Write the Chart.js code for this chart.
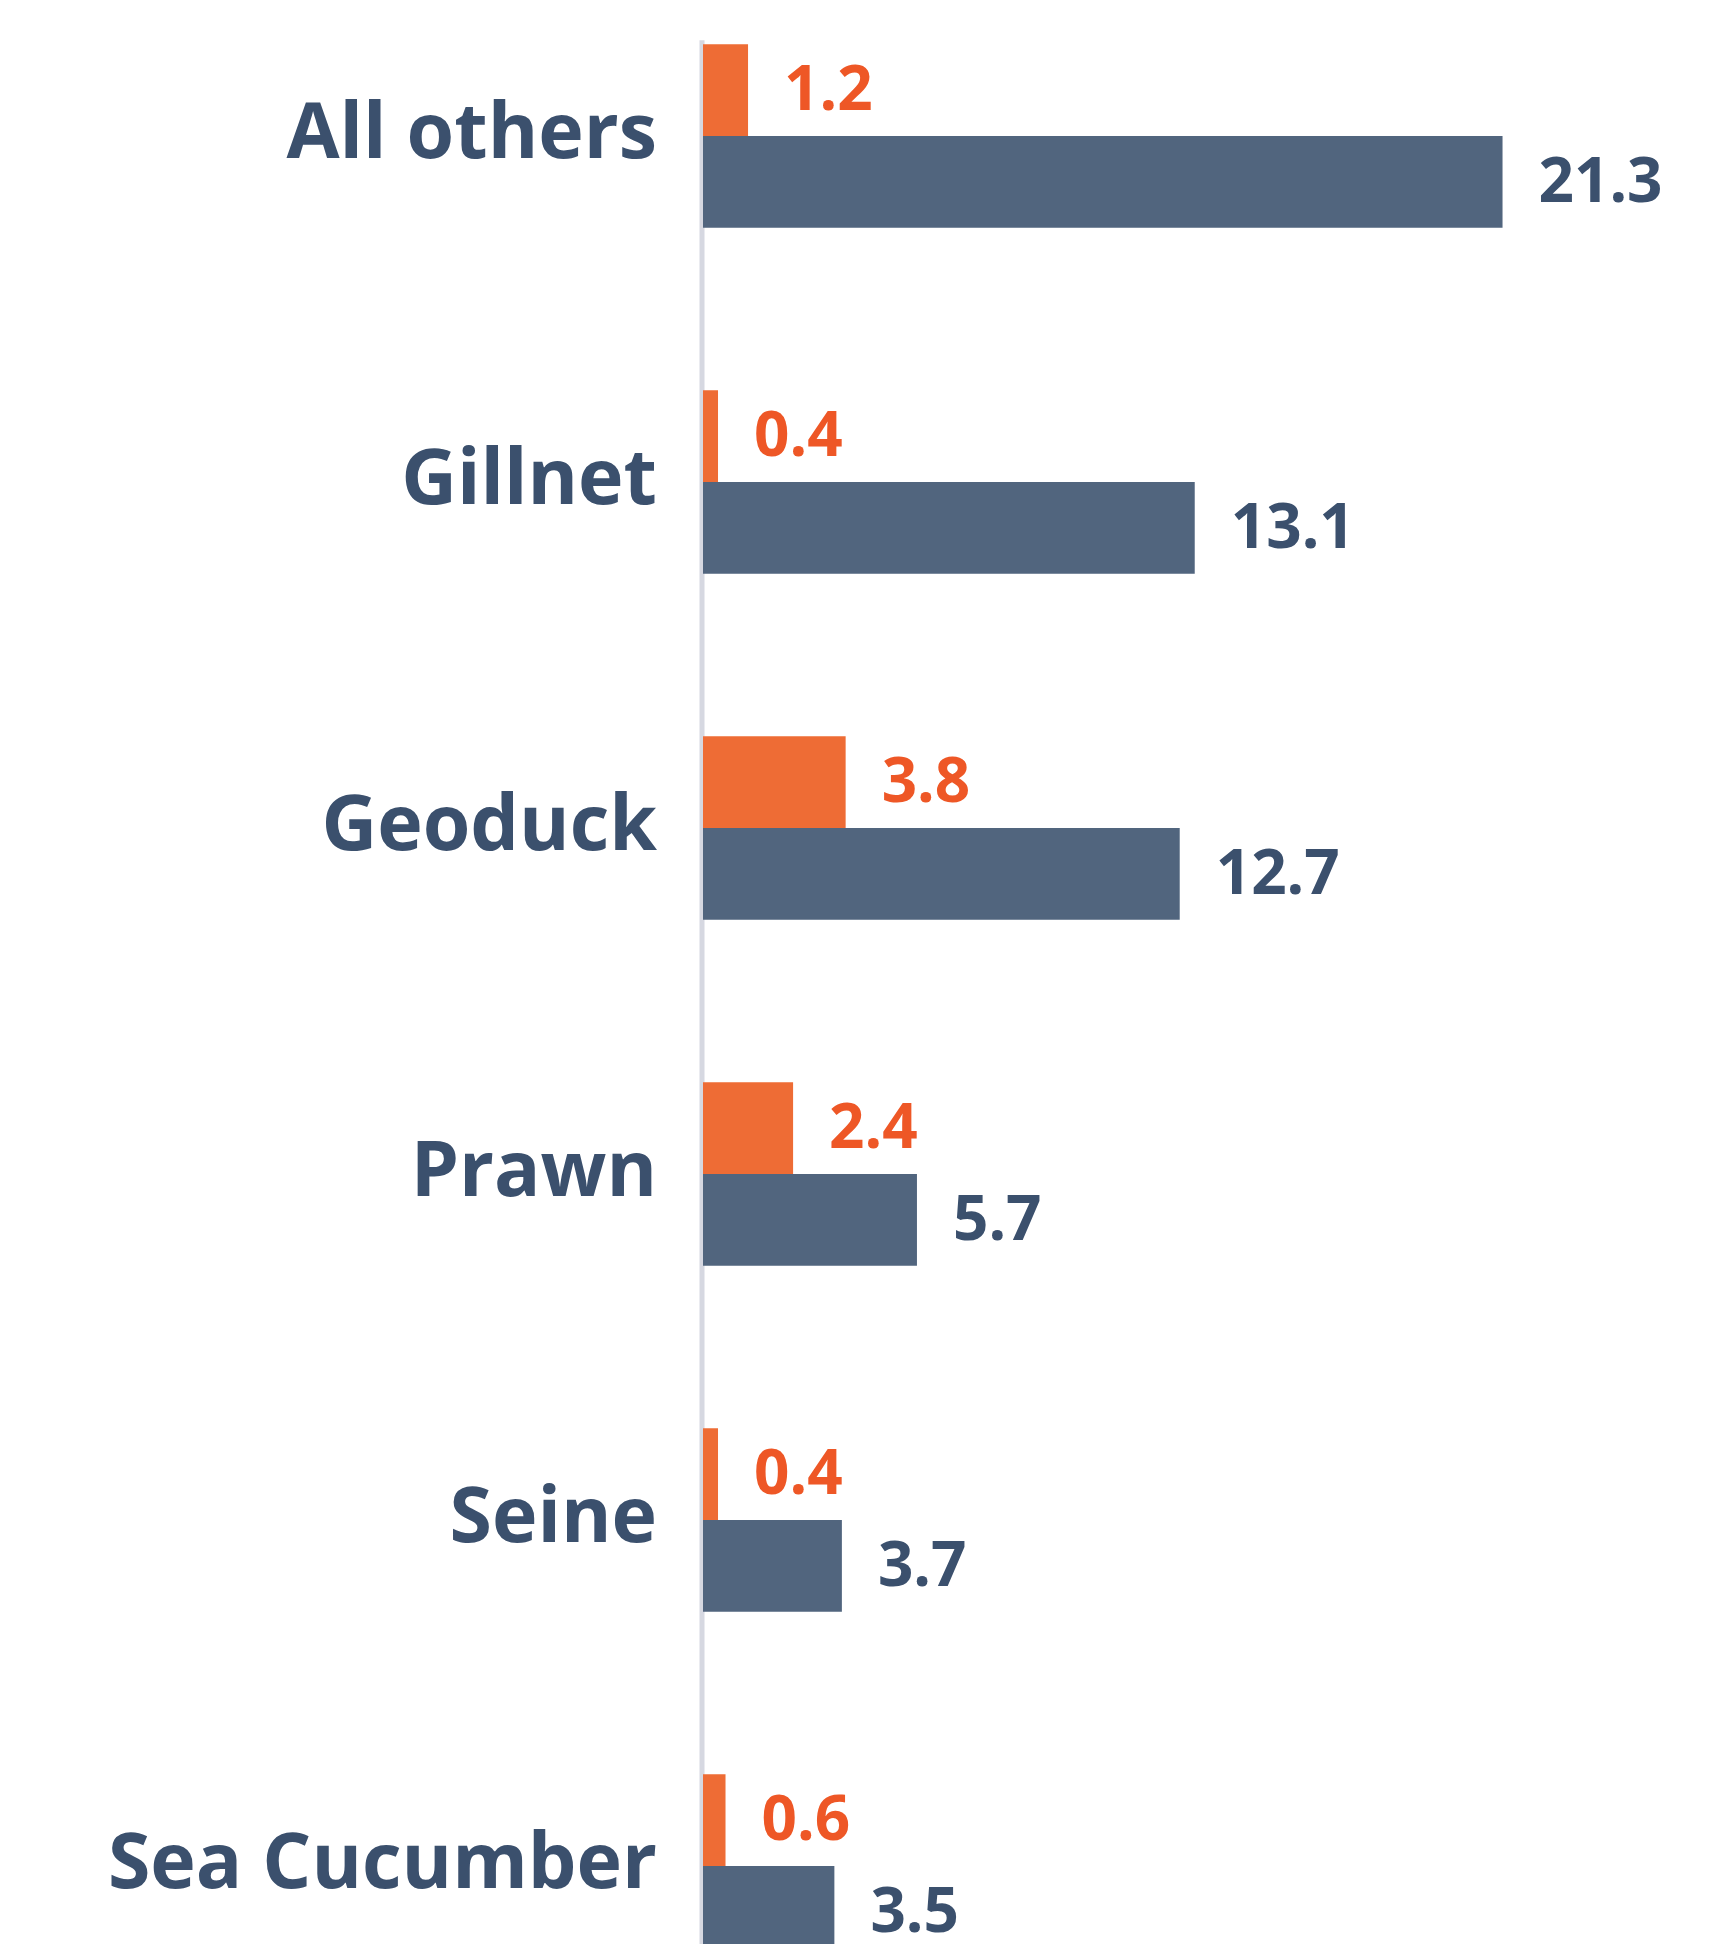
<!DOCTYPE html>
<html>
<head>
<meta charset="utf-8">
<script src="https://cdn.jsdelivr.net/npm/chart.js@4"></script>
<style>
    html, body { margin: 0; padding: 0; background: #fff; overflow: hidden; }
    #gearChart { position: absolute; left: 0; top: -37px; }
</style>
</head>
<body>
<canvas id="gearChart" width="1724" height="2076"></canvas>
<script>
const categories = ["All others", "Gillnet", "Geoduck", "Prawn", "Seine", "Sea Cucumber"];
const orangeValues = [1.2, 0.4, 3.8, 2.4, 0.4, 0.6];
const slateValues = [21.3, 13.1, 12.7, 5.7, 3.7, 3.5];

const FONT = "'Open Sans', 'DejaVu Sans', sans-serif";

// ===== подписи значений справа от столбцов =====
const valueLabels = {
    id: "valueLabels",
    afterDatasetsDraw(chart) {
        const ctx = chart.ctx;
        ctx.save();
        ctx.font = "700 62px " + FONT;
        ctx.textAlign = "left";
        ctx.textBaseline = "middle";
        chart.data.datasets.forEach((ds, di) => {
            const meta = chart.getDatasetMeta(di);
            ctx.fillStyle = ds.labelColor;
            meta.data.forEach((bar, i) => {
                ctx.fillText(Number(ds.data[i]).toFixed(1), bar.x + 36, bar.y + 2);
            });
        });
        ctx.restore();
    }
};

// ===== вертикальная ось у нуля =====
const zeroLine = {
    id: "zeroLine",
    beforeDatasetsDraw(chart) {
        const ctx = chart.ctx;
        const x = chart.scales.x.getPixelForValue(0) - 1;
        const first = chart.getDatasetMeta(0).data[0];
        const top = first.y - first.height / 2 - 4;
        ctx.save();
        ctx.strokeStyle = "#d6d8e1";
        ctx.lineWidth = 5;
        ctx.beginPath();
        ctx.moveTo(x, top);
        ctx.lineTo(x, chart.chartArea.bottom);
        ctx.stroke();
        ctx.restore();
    }
};

new Chart(document.getElementById("gearChart"), {
    type: "bar",
    data: {
        labels: categories,
        datasets: [
            {
                data: orangeValues,
                backgroundColor: "#ee6c35",
                labelColor: "#ee5726",
                borderWidth: 0
            },
            {
                data: slateValues,
                backgroundColor: "#51657e",
                labelColor: "#3b506d",
                borderWidth: 0
            }
        ]
    },
    options: {
        indexAxis: "y",
        responsive: false,
        animation: false,
        devicePixelRatio: 1,
        layout: { padding: 0 },
        datasets: {
            bar: { categoryPercentage: 0.53, barPercentage: 1.0 }
        },
        plugins: {
            legend: { display: false },
            title: { display: false },
            tooltip: { enabled: false }
        },
        scales: {
            x: {
                display: false,
                min: 0,
                max: 27.2
            },
            y: {
                grid: { display: false },
                border: { display: false },
                ticks: {
                    color: "#3b506d",
                    padding: 38,
                    font: { family: FONT, size: 77, weight: "700" }
                },
                afterFit(scale) {
                    scale.width = 703;
                    scale.paddingTop = 0;
                    scale.paddingBottom = 0;
                }
            }
        }
    },
    plugins: [zeroLine, valueLabels]
});
</script>
</body>
</html>
